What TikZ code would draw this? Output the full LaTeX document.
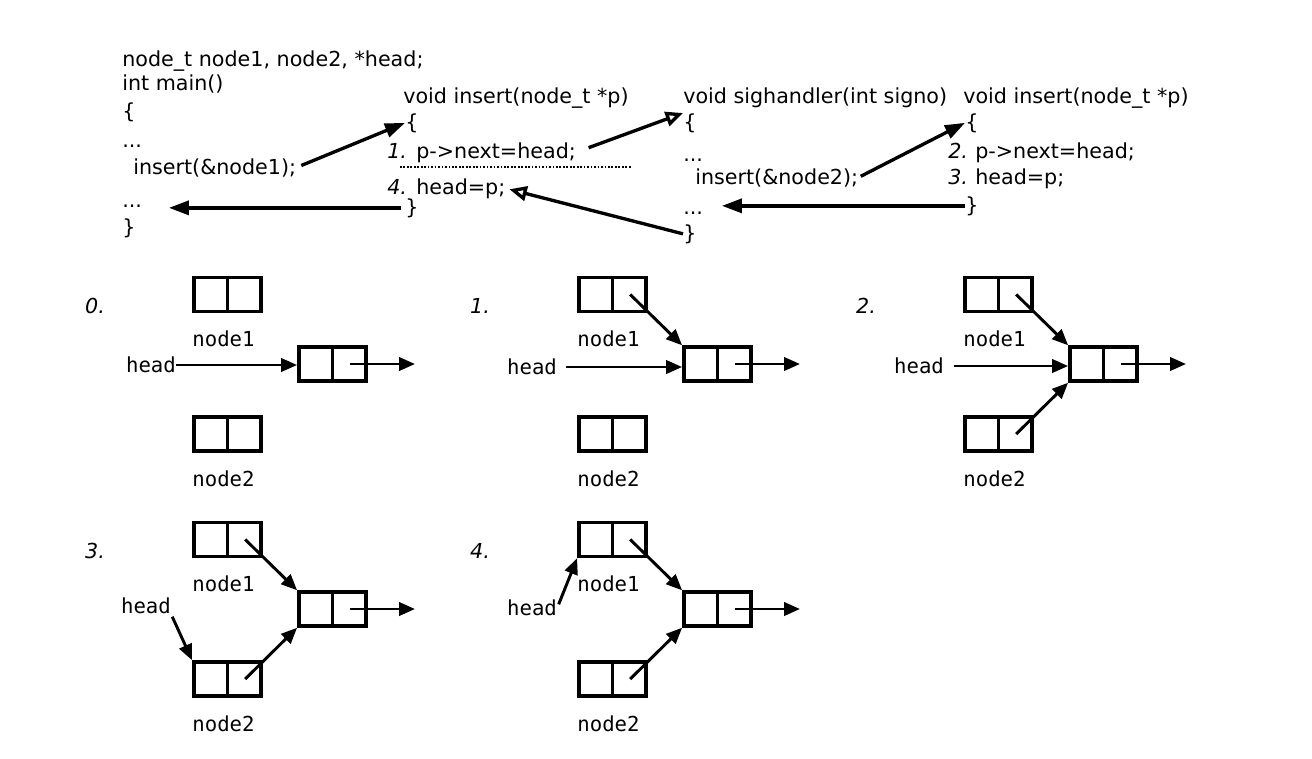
\documentclass[tikz,border=0pt]{standalone}
\usepackage{fontspec}
\setmainfont{DejaVu Sans}
\setmonofont{DejaVu Sans Mono}
\usepackage{tikz}
\usetikzlibrary{arrows.meta,calc,positioning}

\begin{document}
\begin{tikzpicture}[x=0.75pt,y=-0.75pt,
  code/.style={anchor=base west,inner sep=0pt,font=\fontsize{15.5}{18}\selectfont},
  num/.style={code,font=\fontsize{15.5}{18}\selectfont\itshape},
  cell/.style={draw,line width=2.6pt,minimum width=50.5pt,minimum height=25.5pt,inner sep=0pt,
    path picture={\draw[line width=2.6pt] (path picture bounding box.north) -- (path picture bounding box.south);}},
  lbl/.style={inner sep=0pt,font=\fontsize{15.5}{18}\selectfont\ttfamily},
  stepno/.style={inner sep=0pt,font=\fontsize{15.5}{18}\selectfont\itshape},
  call/.style={line width=2.5pt,-{Triangle[length=15pt,width=10.5pt]}},
  back/.style={line width=2.5pt,-{Triangle[open,length=13pt,width=11pt]}},
  ptr/.style={line width=2.2pt,-{Triangle[length=12pt,width=10pt]}}]
  \useasboundingbox (0,0) rectangle (1312,758);

  % main
  \node[code] (m1) at (122,66) {node\_t node1, node2, *head;};
  \node[code] (m2) at (122,90) {int main()};
  \node[code] (m3) at (122,118) {\{};
  \node[code] (m4) at (122,147) {...};
  \node[code] (m5) at (133,174) {insert(\&node1);};
  \node[code] (m6) at (122,207) {...};
  \node[code] (m7) at (122,234) {\}};

  % insert, first call
  \node[code] (i1head) at (403,103) {void insert(node\_t *p)};
  \node[code] (i1open) at (405,129) {\{};
  \node[num] (i1n1) at (387,158) {1.};
  \node[code] (i1s1) at (416,158) {p->next=head;};
  \node[num] (i1n4) at (387,194) {4.};
  \node[code] (i1s4) at (416,194) {head=p;};
  \node[code] (i1close) at (405,214) {\}};
  \draw[line width=2.2pt,dash pattern=on 1.3pt off 1.3pt] (400,167) -- (632,167);

  % signal handler
  \node[code] (shhead) at (683,103) {void sighandler(int signo)};
  \node[code] (shopen) at (683,129) {\{};
  \node[code] (shdots1) at (683,161) {...};
  \node[code] (shcall) at (695,184) {insert(\&node2);};
  \node[code] (shdots2) at (683,214) {...};
  \node[code] (shclose) at (683,240) {\}};

  % insert, second call
  \node[code] (i2head) at (963,103) {void insert(node\_t *p)};
  \node[code] (i2open) at (965,129) {\{};
  \node[num] (i2n2) at (948,158) {2.};
  \node[code] (i2s2) at (975,158) {p->next=head;};
  \node[num] (i2n3) at (948,184) {3.};
  \node[code] (i2s3) at (975,184) {head=p;};
  \node[code] (i2close) at (965,212) {\}};

  \draw[call,shorten <=4pt] (m5.east) -- (i1open.west);
  \draw[call,shorten <=3pt,shorten >=20pt] (i1close.west) -- (i1close.west -| m6.east);
  \draw[back,shorten <=10pt] (i1s1.east) -- (shopen.north west);
  \draw[back,shorten >=3pt] (shclose.west) -- (i1s4.east);
  \draw[call,shorten <=2pt] (shcall.east) -- (i2open.west);
  \draw[call,shorten >=14pt] (i2close.west) -- (i2close.west -| shdots2.east);

  % the five states of the list
  \foreach \p/\x/\y in {0/192/276,1/577/276,2/963/276,3/192/521,4/577/521}{
    \node[cell] (n1-\p) at (\x+35.5,\y+18.5) {};
    \node[lbl,below=13pt of n1-\p,xshift=-3pt] (l1-\p) {node1};
    \node[cell] (t-\p) at (\x+140.5,\y+88) {};
    \node[cell] (n2-\p) at (\x+35.5,\y+158) {};
    \node[lbl,below=13pt of n2-\p,xshift=-3pt] (l2-\p) {node2};
    \node[stepno] (s-\p) at (\x-97,\y+30) {\p.};
    \coordinate (r1-\p) at ($(n1-\p.center)!.5!(n1-\p.east)$);
    \coordinate (r2-\p) at ($(n2-\p.center)!.5!(n2-\p.east)$);
    \coordinate (rt-\p) at ($(t-\p.center)!.5!(t-\p.east)$);
    \coordinate (nil-\p) at (\x+223,\y+88);
    \draw[ptr] (rt-\p) -- (nil-\p);
  }

  \node[lbl] (h-0) at (151,365) {head};
  \node[lbl] (h-1) at (532,367) {head};
  \node[lbl] (h-2) at (919,366) {head};
  \node[lbl] (h-3) at (146,606) {head};
  \node[lbl] (h-4) at (532,608) {head};

  \draw[ptr] (h-0.east) -- (h-0.east -| t-0.west);
  \draw[ptr,shorten <=7pt] (h-1.east) -- (h-1.east -| t-1.west);
  \draw[ptr,shorten <=7pt] (h-2.east) -- (h-2.east -| t-2.west);
  \draw[ptr] (r1-1) -- (t-1.north west);
  \draw[ptr] (r1-2) -- (t-2.north west);
  \draw[ptr] (r2-2) -- (t-2.south west);
  \draw[ptr,shorten <=2pt] (h-3.south east) -- (n2-3.north west);
  \draw[ptr] (r1-3) -- (t-3.north west);
  \draw[ptr] (r2-3) -- (t-3.south west);
  \draw[ptr,shorten <=3pt] (h-4.east) -- (n1-4.south west);
  \draw[ptr] (r1-4) -- (t-4.north west);
  \draw[ptr] (r2-4) -- (t-4.south west);
\end{tikzpicture}
\end{document}
